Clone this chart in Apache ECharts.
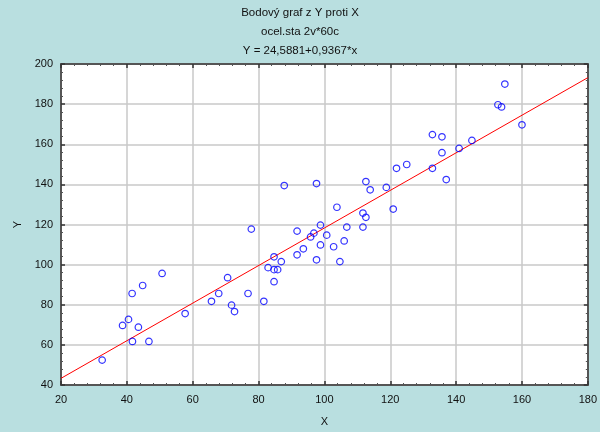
<!DOCTYPE html>
<html>
<head>
<meta charset="utf-8">
<script src="https://cdn.jsdelivr.net/npm/echarts@6/dist/echarts.min.js"></script>
<style>
html,body{margin:0;padding:0;background:#b9dfe0;}
#c{width:600px;height:432px;}
</style>
</head>
<body>
<div id="c"></div>
<script>
const titleLines = ['Bodový graf z Y proti X', 'ocel.sta 2v*60c', 'Y = 24,5881+0,9367*x'];
const xName = 'X';
const yName = 'Y';
const xValues = [32.5, 38.7, 40.5, 41.6, 44.8, 43.5, 41.7, 46.7, 50.7, 57.7, 65.7, 67.9, 70.6, 71.8, 72.7,
  77.8, 87.8, 97.6, 112.6, 113.9, 118.8, 121.9, 125.0, 120.9, 103.8, 111.7, 112.6, 111.7, 106.8, 98.8,
  91.7, 96.8, 95.8, 100.7, 106.0, 102.8, 98.8, 93.6, 91.7, 97.6, 104.7, 84.7, 86.9, 82.9, 84.7,
  85.8, 84.7, 76.8, 81.6, 154.8, 152.7, 153.8, 160.0, 132.8, 135.7, 144.8, 140.9, 135.7, 132.8, 137.0];
const yValues = [52.4, 69.7, 72.7, 85.6, 89.6, 68.8, 61.7, 61.7, 95.6, 75.6, 81.7, 85.6, 93.5, 79.8, 76.6,
  117.7, 139.4, 140.4, 141.4, 137.3, 138.5, 148.0, 149.9, 127.7, 128.6, 125.7, 123.6, 118.7, 118.7, 119.7,
  116.7, 115.7, 113.8, 114.7, 111.8, 108.9, 109.8, 107.9, 104.9, 102.4, 101.5, 103.9, 101.5, 98.5, 97.5,
  97.5, 91.5, 85.6, 81.7, 190.0, 179.7, 178.6, 169.7, 164.8, 163.7, 161.9, 157.9, 155.8, 148.0, 142.4];
const intercept = 24.5881;
const slope = 0.9367;
const xRange = [20, 180];
const yRange = [40, 200];

const points = xValues.map((x, i) => [x, yValues[i]]);
const fitLine = xRange.map(x => [x, intercept + slope * x]);

const chart = echarts.init(document.getElementById('c'));
const labelFont = {fontFamily: 'Liberation Sans, Arial, sans-serif', fontSize: 11, color: '#111'};
const axisCommon = {
  axisLine: {show: true, lineStyle: {color: '#555', width: 2}},
  axisTick: {show: true, inside: true, length: 4, lineStyle: {color: '#333', width: 1.5}},
  minorTick: {show: true, splitNumber: 5, length: 2, lineStyle: {color: '#555'}},
};
chart.setOption({
  backgroundColor: '#b9dfe0',
  animation: false,
  title: titleLines.map((t, i) => ({
    text: t, left: 'center', top: 2 + i * 19,
    textStyle: {fontFamily: 'Liberation Sans, Arial, sans-serif', fontSize: 11.5, fontWeight: 'normal', color: '#111'}
  })),
  grid: {left: 61, top: 64, width: 528, height: 326, backgroundColor: '#fff', show: true, borderWidth: 0},
  xAxis: [
    Object.assign({type: 'value', min: xRange[0], max: xRange[1], interval: 20, position: 'bottom',
      name: xName, nameLocation: 'middle', nameGap: 31, nameTextStyle: labelFont,
      axisLabel: Object.assign({margin: 9}, labelFont),
      splitLine: {show: true, lineStyle: {color: '#c8c8c8', width: 1.5}}}, axisCommon),
    Object.assign({type: 'value', min: xRange[0], max: xRange[1], interval: 20, position: 'top',
      axisLabel: {show: false}, splitLine: {show: false}}, axisCommon)
  ],
  yAxis: [
    Object.assign({type: 'value', min: yRange[0], max: yRange[1], interval: 20, position: 'left',
      name: yName, nameLocation: 'middle', nameGap: 37, nameTextStyle: labelFont,
      axisLabel: Object.assign({margin: 8}, labelFont),
      splitLine: {show: true, lineStyle: {color: '#c8c8c8', width: 1.5}}}, axisCommon),
    Object.assign({type: 'value', min: yRange[0], max: yRange[1], interval: 20, position: 'right',
      axisLabel: {show: false}, splitLine: {show: false}}, axisCommon)
  ],
  series: [
    {type: 'line', data: fitLine, symbol: 'none', lineStyle: {color: '#ff0000', width: 1}, z: 2},
    {type: 'scatter', data: points, symbol: 'circle', symbolSize: 6.5,
      itemStyle: {color: 'transparent', borderColor: '#0000ff', borderWidth: 1.2}, z: 3}
  ]
});
</script>
</body>
</html>
